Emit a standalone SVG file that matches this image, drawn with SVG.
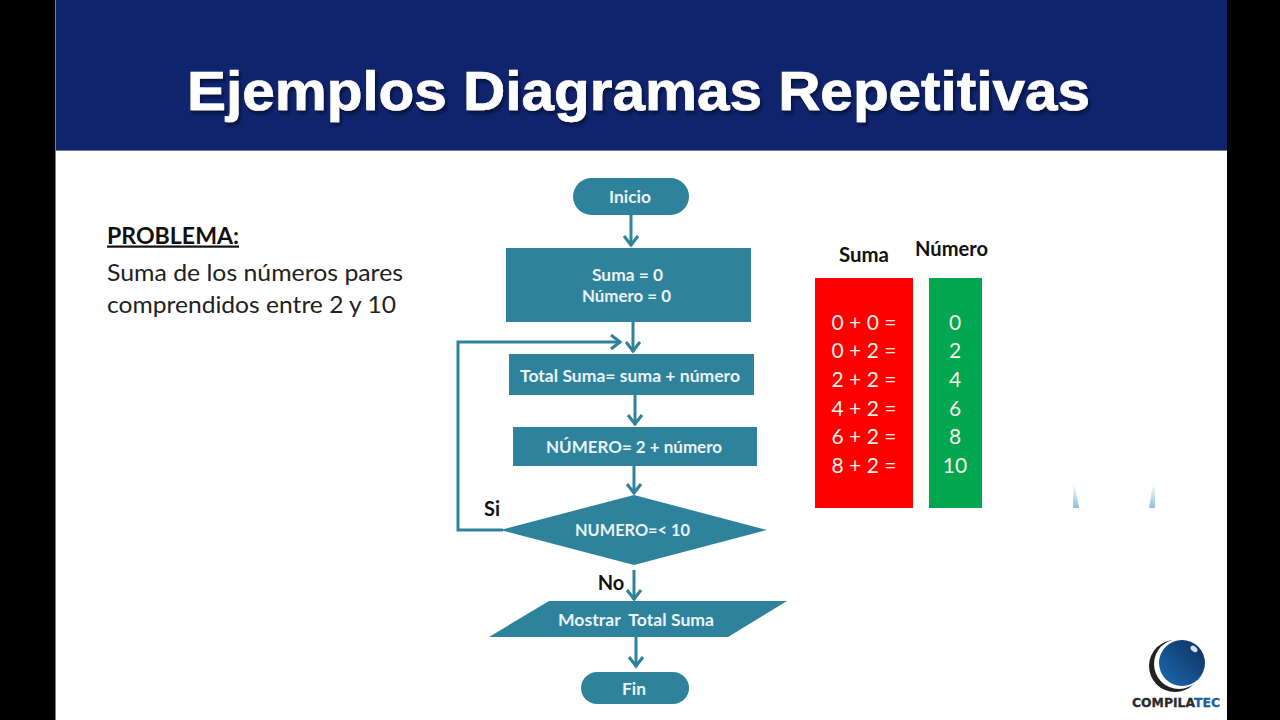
<svg xmlns="http://www.w3.org/2000/svg" width="1280" height="720" viewBox="0 0 1280 720">
<style>
.n{fill:#2f829b}
.c{fill:none;stroke:#2f829b;stroke-width:3;marker-end:url(#a)}
.t{font-family:"Lato","Open Sans",sans-serif;font-weight:700;font-size:17px;fill:#eaf3f5;text-anchor:middle}
.k{font-family:"Lato","Open Sans",sans-serif;font-weight:700;font-size:20px;fill:#111;text-anchor:middle}
.w{font-family:"Lato","Open Sans",sans-serif;font-size:21px;fill:#f6efe6;text-anchor:middle}
.p{font-family:"Lato","Open Sans",sans-serif;font-size:24px;fill:#222}
</style>
<defs>
<marker id="a" markerUnits="userSpaceOnUse" markerWidth="20" markerHeight="20" refX="12" refY="8" orient="auto">
<path d="M2 1 L11 8 L2 15" fill="none" stroke="#2f829b" stroke-width="3"/>
</marker>
<linearGradient id="s" x1="0" y1="0" x2="0" y2="1"><stop offset="0" stop-color="#fff"/><stop offset="1" stop-color="#8fbfdc"/></linearGradient>
<linearGradient id="b" x1="0" y1="1" x2="1" y2="0"><stop offset="0" stop-color="#1c6cb0"/><stop offset="1" stop-color="#0d2f5c"/></linearGradient>
<filter id="d" x="-5%" y="-5%" width="110%" height="120%"><feDropShadow dx="2" dy="3" stdDeviation="1.500" flood-color="#04102e" flood-opacity=".8"/></filter>
</defs>
<rect width="1280" height="720" fill="#fff"/>
<rect x="0" y="0" width="55.500" height="720" fill="#000"/>
<rect x="1227" y="0" width="53" height="720" fill="#000"/>
<g id="header">
<rect x="56" y="0" width="1171" height="151" fill="#10246e"/>
<rect x="56" y="150" width="1171" height="1" fill="#6b7aa6"/>
<text x="638.500" y="110" font-family="'Liberation Sans',Arial,sans-serif" font-weight="700" font-size="56" fill="#fff" stroke="#fff" stroke-width=".7" text-anchor="middle" textLength="903" lengthAdjust="spacingAndGlyphs" filter="url(#d)">Ejemplos Diagramas Repetitivas</text>
</g>
<g id="problema">
<text x="107" y="243.500" text-decoration="underline" textLength="132" lengthAdjust="spacingAndGlyphs" style="font-family:Lato,'Open Sans',sans-serif;font-weight:700;font-size:22px;fill:#111">PROBLEMA:</text>
<text x="107" y="281" class="p" textLength="296" lengthAdjust="spacingAndGlyphs">Suma de los números pares</text>
<text x="107" y="313" class="p" textLength="289" lengthAdjust="spacingAndGlyphs">comprendidos entre 2 y 10</text>
</g>
<g id="connectors">
<path class="c" d="M631 215V246"/>
<path class="c" d="M633 322V352"/>
<path class="c" d="M503 530H458V342H621"/>
<path class="c" d="M635 395V425"/>
<path class="c" d="M634 466V494"/>
<path class="c" d="M634 570V600"/>
<path class="c" d="M636 637V667"/>
</g>
<g id="inicio"><rect class="n" x="573" y="178" width="116" height="37" rx="18.500"/><text class="t" x="630" y="202.500" textLength="42" lengthAdjust="spacingAndGlyphs">Inicio</text></g>
<g id="init"><rect class="n" x="506" y="248" width="245" height="74"/><text class="t" x="627.500" y="280.500" textLength="71" lengthAdjust="spacingAndGlyphs">Suma = 0</text><text class="t" x="626.500" y="301.500" textLength="89" lengthAdjust="spacingAndGlyphs">Número = 0</text></g>
<g id="total"><rect class="n" x="509" y="354" width="245" height="41"/><text class="t" x="630" y="381.500" textLength="220" lengthAdjust="spacingAndGlyphs">Total Suma= suma + número</text></g>
<g id="numero"><rect class="n" x="513" y="427" width="244" height="39"/><text class="t" x="634" y="452.500" textLength="176" lengthAdjust="spacingAndGlyphs">NÚMERO= 2 + número</text></g>
<g id="decision"><polygon class="n" points="500,530 634,495 767,530 634,565"/><text class="t" x="632.500" y="535.500" textLength="115" lengthAdjust="spacingAndGlyphs">NUMERO=&lt; 10</text></g>
<g id="mostrar"><polygon class="n" points="549,601 787,601 728,637 489,637"/><text class="t" x="636" y="625.500" textLength="156" lengthAdjust="spacingAndGlyphs" xml:space="preserve">Mostrar  Total Suma</text></g>
<g id="fin"><rect class="n" x="581" y="672" width="108" height="32" rx="16"/><text class="t" x="634" y="694.500" textLength="24" lengthAdjust="spacingAndGlyphs">Fin</text></g>
<text class="k" x="492" y="515.500">Si</text>
<text class="k" x="611" y="590">No</text>
<g id="suma">
<text class="k" x="864" y="261.500" textLength="50" lengthAdjust="spacingAndGlyphs">Suma</text>
<rect x="815" y="278" width="98" height="230" fill="#ff0000"/>
<text class="w" x="864" y="330">0 + 0 =</text>
<text class="w" x="864" y="358">0 + 2 =</text>
<text class="w" x="864" y="387">2 + 2 =</text>
<text class="w" x="864" y="416">4 + 2 =</text>
<text class="w" x="864" y="444">6 + 2 =</text>
<text class="w" x="864" y="473">8 + 2 =</text>
</g>
<g id="numeros">
<text class="k" x="951.500" y="256" textLength="73" lengthAdjust="spacingAndGlyphs">Número</text>
<rect x="929" y="278" width="53" height="230" fill="#00a650"/>
<text class="w" x="955" y="330">0</text>
<text class="w" x="955" y="358">2</text>
<text class="w" x="955" y="387">4</text>
<text class="w" x="955" y="416">6</text>
<text class="w" x="955" y="444">8</text>
<text class="w" x="955" y="473">10</text>
</g>
<polygon points="1073,508 1073,484 1075,484 1079,508" fill="url(#s)"/>
<polygon points="1149,508 1153,484 1155,484 1155,508" fill="url(#s)"/>
<g id="logo">
<circle cx="1175" cy="666" r="26" fill="#222"/>
<circle cx="1179" cy="664" r="25" fill="#fff"/>
<circle cx="1182" cy="663" r="23" fill="url(#b)"/>
<ellipse cx="1194" cy="649" rx="4" ry="2.500" fill="#cfe0ee" transform="rotate(40 1194 649)"/>
<text x="1132" y="707" font-family="'DejaVu Sans',sans-serif" font-weight="700" font-size="12" stroke="#2b2b2b" stroke-width=".3" textLength="88" lengthAdjust="spacingAndGlyphs" fill="#2b2b2b">COMPILA<tspan fill="#1d5f9e" stroke="#1d5f9e">TEC</tspan></text>
</g>
</svg>
